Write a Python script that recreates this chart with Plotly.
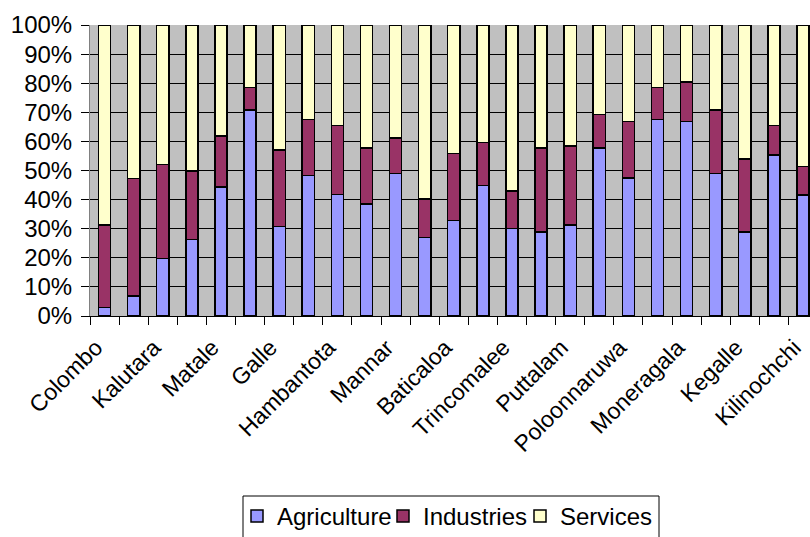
import plotly.graph_objects as go

districts = ["Colombo", "Gampaha", "Kalutara", "Kandy", "Matale", "Nuwara Eliya",
             "Galle", "Matara", "Hambantota", "Jaffna", "Mannar", "Vavuniya",
             "Baticaloa", "Ampara", "Trincomalee", "Kurunegala", "Puttalam",
             "Anuradhapura", "Poloonnaruwa", "Badulla", "Moneragala", "Ratnapura",
             "Kegalle", "Mullaitivu", "Kilinochchi"]

agriculture = [3.0, 6.9, 19.8, 26.3, 44.4, 70.8, 30.7, 48.2, 41.7, 38.5, 48.9, 26.9,
               32.8, 44.8, 30.0, 28.8, 31.3, 57.8, 47.5, 67.6, 66.9, 48.9, 28.8, 55.3, 41.6]
industries = [28.3, 40.4, 32.3, 23.6, 17.5, 7.8, 26.3, 19.4, 23.8, 19.3, 12.2, 13.3,
              23.1, 14.9, 13.0, 29.0, 27.1, 11.5, 19.4, 10.9, 13.5, 21.9, 25.2, 10.2, 9.7]
services = [round(100 - a - i, 1) for a, i in zip(agriculture, industries)]

series_names = ["Agriculture", "Industries", "Services"]
series_values = [agriculture, industries, services]
series_colors = ["#9999FF", "#993366", "#FFFFCC"]

x = list(range(len(districts)))
FONT = "Liberation Sans, Arial, sans-serif"
LABEL_OFFSET = -0.3  # rotated labels end at the category centre (Excel style)

# legend entries laid out like the original (left edge of each entry, in px)
legend_ids = ["legend", "legend2", "legend3"]
legend_left_px = [237, 383, 520]
LEGEND_TOP_PX = 494

fig = go.Figure()
for name, vals, color, lid in zip(series_names, series_values, series_colors, legend_ids):
    fig.add_trace(go.Bar(
        x=x, y=vals, name=name, width=0.42,
        marker=dict(color=color, line=dict(color="black", width=1.5)),
        customdata=districts, legend=lid,
        hovertemplate="%{customdata}<br>" + name + ": %{y:.1f}%<extra></extra>",
    ))

W, H = 810, 537
ML, MR, MT, MB = 90, 0, 25, 221
plot_w = W - ML - MR
plot_h = H - MT - MB

legend_common = dict(
    orientation="h", xref="container", yref="container",
    xanchor="left", yanchor="top", y=1 - LEGEND_TOP_PX / H,
    borderwidth=0, bgcolor="rgba(0,0,0,0)",
    font=dict(size=24, family=FONT, color="black"), itemwidth=30,
)
legend_layout = {}
for lid, lx in zip(legend_ids, legend_left_px):
    legend_layout[lid] = dict(legend_common, x=lx / W)

fig.update_layout(
    width=W, height=H,
    barmode="stack",
    paper_bgcolor="white",
    plot_bgcolor="#C0C0C0",
    margin=dict(l=ML, r=MR, t=MT, b=MB),
    font=dict(family=FONT, size=23, color="black"),
    showlegend=True,
    **legend_layout,
)

# legend frame (bottom edge lies below the visible area, as in the original)
fig.add_shape(
    type="rect", xref="paper", yref="paper",
    x0=(243 - ML) / plot_w, x1=(659 - ML) / plot_w,
    y0=-(H + 20 - MT - plot_h) / plot_h, y1=-(496 - MT - plot_h) / plot_h,
    line=dict(color="black", width=1), fillcolor="white", layer="above",
)

fig.update_xaxes(
    range=[-0.5, 24.24],
    automargin=False,
    tickmode="array",
    tickvals=[v + LABEL_OFFSET for v in x[::2]],
    ticktext=districts[::2],
    tickangle=-45,
    ticks="",
    ticklabelstandoff=8,
    ticklabeloverflow="allow",
    showgrid=False,
    zeroline=False,
    showline=True, linecolor="black", linewidth=1,
    tickfont=dict(size=23),
    minor=dict(tickmode="array", tickvals=[i - 0.5 for i in range(len(districts) + 1)],
               ticks="outside", ticklen=8, tickcolor="black", tickwidth=1, showgrid=False),
)

fig.update_yaxes(
    range=[0, 100],
    automargin=False,
    tickmode="linear", tick0=0, dtick=10,
    ticksuffix="%",
    ticks="outside", ticklen=8, tickcolor="black",
    ticklabelstandoff=4,
    showgrid=True, gridcolor="black", gridwidth=1,
    zeroline=False,
    showline=True, linecolor="#808080", linewidth=1,
    tickfont=dict(size=24),
)

fig.write_html("out.html")
